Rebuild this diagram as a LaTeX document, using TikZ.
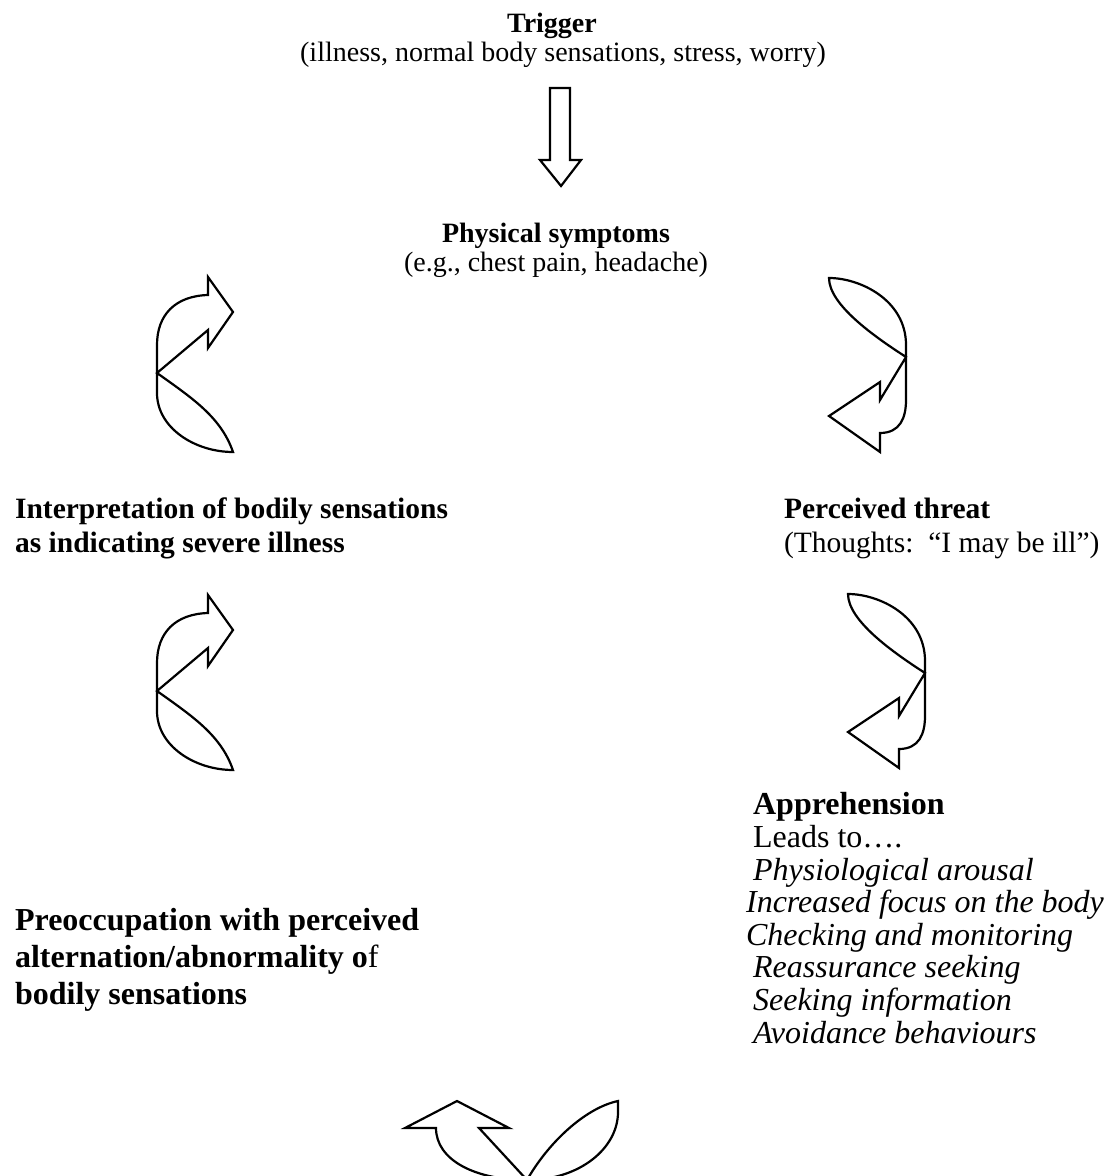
\documentclass[tikz,border=0pt]{standalone}
\usepackage{fontspec}
\setmainfont{Liberation Serif}
\usetikzlibrary{positioning}

\begin{document}
\begin{tikzpicture}[x=0.5pt,y=-0.5pt,line width=1.1pt,
        txt/.style={inner sep=0pt,anchor=base west,align=left},
        top/.style={font=\fontsize{14}{14.5}\selectfont},
        mid/.style={font=\fontsize{14.75}{17}\selectfont},
        big/.style={font=\fontsize{16}{18.5}\selectfont},
        list/.style={font=\fontsize{16}{16.3}\selectfont},
        blockarrow/.style={draw,fill=white,line join=miter}]
		\useasboundingbox (0,0) rectangle (1109,1176);
		\clip (0,0) rectangle (1109,1176);
		\node [txt,top,anchor=base,align=center] (trigger) at (563,62) {\textbf{Trigger}\hspace*{11pt}\\(illness, normal body sensations, stress, worry)};
		\node [txt,top,anchor=base,align=center] (symptoms) at (556,272) {\textbf{Physical symptoms}\\(e.g., chest pain, headache)};
		\node [txt,mid] (interpret) at (14,552) {\textbf{Interpretation of bodily sensations}\\\textbf{as indicating severe illness}};
		\node [txt,mid] (threat) at (783,552) {\textbf{Perceived threat}\\(Thoughts:\ \ “I may be ill”)};
		\node [txt,big] (preoccupy) at (14,1004) {\textbf{Preoccupation with perceived}\\\textbf{alternation/abnormality o}f\\\textbf{bodily sensations}};
		\node [txt,list] (apprehend) at (752,1043) {\textbf{Apprehension}\\Leads to….\\\textit{Physiological arousal}\\\hspace*{-3.5pt}\textit{Increased focus on the body}\\\hspace*{-3.5pt}\textit{Checking and monitoring}\\\textit{Reassurance seeking}\\\textit{Seeking information}\\\textit{Avoidance behaviours}};
		\draw [blockarrow] (550,88) -- (570,88) -- (570,160) -- (581,160) -- (561,186) -- (540,160) -- (550,160) -- cycle;
		\foreach \dy in {0,318}
		\draw [blockarrow,shift={(0,\dy)}] (233,452) .. controls (195,452) and (157,428) .. (157,393) -- (157,345) .. controls (157,315) and (175,296) .. (208,295) -- (208,277) -- (233,312) -- (208,348) -- (208,330) -- (157,373) .. controls (192,398) and (221,417) .. (233,452) -- cycle;
		\foreach \dx/\dy in {0/0,19/316}
		\draw [blockarrow,shift={(\dx,\dy)}] (829,278) .. controls (860,278) and (906,300) .. (906,345) -- (906,400) .. controls (906,418) and (900,433) .. (880,433) -- (880,452) -- (829,416) -- (880,382) -- (880,400) -- (906,357) .. controls (875,337) and (829,305) .. (829,278) -- cycle;
		\draw [blockarrow] (436,1128) -- (405,1128) -- (457,1101) -- (509,1128) -- (479,1128) -- (527,1180) .. controls (548,1143) and (585,1108) .. (618,1101) -- (618,1112) .. controls (618,1148) and (580,1180) .. (527,1180) .. controls (475,1180) and (436,1160) .. (436,1128) -- cycle;
\end{tikzpicture}
\end{document}
